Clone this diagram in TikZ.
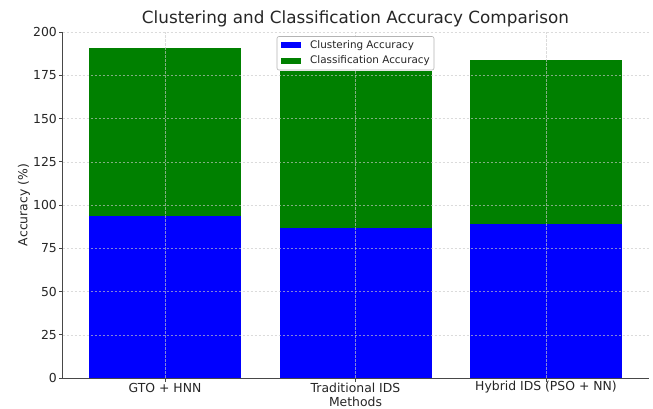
\documentclass[tikz,border=0pt]{standalone}
\usepackage{fontspec}
\setmainfont{DejaVu Sans}
\definecolor{barblue}{HTML}{0000FF}
\definecolor{bargreen}{HTML}{008000}
\definecolor{gridc}{HTML}{C8C8C8}
\definecolor{txt}{HTML}{262626}
\tikzset{
  gridline/.style={draw=gridc, draw opacity=0.65, line width=0.5pt, dash pattern=on 2.6pt off 1.4pt},
  spine/.style={draw=txt!85, line width=0.9pt},
  ticklab/.style={font=\fontsize{12.4}{14}\selectfont, text=txt, inner sep=0pt},
  leglab/.style={font=\fontsize{10.4}{12}\selectfont, text=txt, inner sep=0pt, anchor=west},
}
\begin{document}
\begin{tikzpicture}[x=1pt,y=-1pt]
\useasboundingbox (0,0) rectangle (653,409);
\fill[white] (0,0) rectangle (653,409);
% bars: value v -> 378-1.73*v
% bar 1
\fill[barblue] (89,378) rectangle (241,{378-1.73*93.6});
\fill[bargreen] (89,{378-1.73*93.6}) rectangle (241,{378-1.73*190.9});
% bar 2
\fill[barblue] (279.5,378) rectangle (431.5,{378-1.73*86.5});
\fill[bargreen] (279.5,{378-1.73*86.5}) rectangle (431.5,{378-1.73*177.5});
% bar 3
\fill[barblue] (470,378) rectangle (622,{378-1.73*89});
\fill[bargreen] (470,{378-1.73*89}) rectangle (622,{378-1.73*183.8});
% grid
\foreach \v in {25,50,...,200} {
  \draw[gridline] (62.5,{378-1.73*\v}) -- (649,{378-1.73*\v});
}
\foreach \x in {165,355.5,546} {
  \draw[gridline] (\x,378) -- (\x,32);
}
% spines
\draw[spine] (62.5,32) -- (62.5,378) -- (649,378);
% y ticks
\foreach \v in {0,25,...,200} {
  \draw[spine] (59,{378-1.73*\v}) -- (62.5,{378-1.73*\v});
  \node[ticklab, anchor=east] at (57,{378-1.73*\v}) {\v};
}
% x ticks
\foreach \x in {165,355.5,546} {
  \draw[spine] (\x,378) -- (\x,381.5);
}
\node[ticklab] (t1) at (165,387.5) {GTO + HNN};
\node[ticklab] (t2) at (355.5,387.5) {Traditional IDS};
\node[ticklab] (t3) at (546,387.5) {Hybrid IDS (PSO + NN)};
\node[ticklab] (xl) at (355.5,401.5) {Methods};
\node[ticklab, rotate=90] (yl) at (24,205) {Accuracy (\%)};
\node[font=\fontsize{16.8}{19}\selectfont, text=txt, inner sep=0pt] (title) at (355.5,19) {Clustering and Classification Accuracy Comparison};
% legend
\draw[draw=gridc!90!black, fill=white, fill opacity=0.92, rounded corners=2pt, line width=0.6pt] (277,36.5) rectangle (434,70);
\fill[barblue] (280.5,42.3) rectangle (301,48.3);
\fill[bargreen] (280.5,58) rectangle (301,64);
\node[leglab] (l1) at (310,45.3) {Clustering Accuracy};
\node[leglab] (l2) at (310,61) {Classification Accuracy};
\end{tikzpicture}
\end{document}
